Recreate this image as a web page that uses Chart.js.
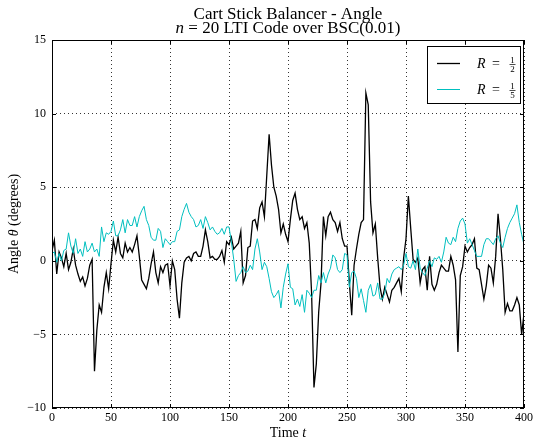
<!DOCTYPE html>
<html><head><meta charset="utf-8">
<script src="https://cdn.jsdelivr.net/npm/chart.js@4.4.1/dist/chart.umd.min.js"></script>
<style>html,body{margin:0;padding:0;background:#fff}#wrap{width:536px;height:443px;position:relative}</style>
</head><body><div id="wrap"><canvas id="c"></canvas></div>
<script>
const titleLine1 = 'Cart Stick Balancer - Angle';
const titleLine2Italic = 'n';
const titleLine2Rest = ' = 20 LTI Code over BSC(0.01)';
const xLabelText = 'Time ';
const xLabelItalic = 't';
const yLabelParts = ['Angle ', '\u03B8', ' (degrees)'];
const legendNames = ['R = 1/2', 'R = 1/5'];
const legendDenoms = ['2', '5'];
const xTicks = [0, 50, 100, 150, 200, 250, 300, 350, 400];
const yTicks = [-10, -5, 0, 5, 10, 15];
const tStart = 0, tStep = 2;

const seriesHalf = [
 0.7, 1.4, -0.9, 0.6, 0.2, -0.4, 0.5, -0.6, -0.1, 0.8,
 -0.3, -0.9, -1.4, -1.1, -1.7, -1.2, -0.3, 0.1, -7.5, -4.7,
 -3.0, -3.5, -1.8, -0.8, -1.9, -0.2, 1.4, 0.6, 1.6, 0.5,
 0.2, 1.2, 0.6, 0.9, 0.6, 1.1, 1.7, 0.3, -1.3, -1.6,
 -1.9, -1.2, -0.2, 0.6, -0.8, -1.5, -0.4, -0.8, -0.3, -0.2,
 -1.7, 0.0, -0.6, -2.6, -3.9, -1.5, -0.1, 0.2, 0.3, 0.0,
 0.5, 0.6, 0.3, 0.3, 1.0, 2.1, 1.3, 0.2, 0.3, 0.1,
 0.1, 0.3, 0.7, -0.1, 1.3, 1.1, 1.6, 0.8, 1.0, 1.2,
 2.0, -1.5, -1.0, 0.9, 1.0, 2.7, 2.8, 2.2, 3.6, 4.0,
 3.0, 5.8, 8.6, 6.5, 5.0, 4.4, 3.5, 1.9, 2.5, 1.8,
 1.3, 2.8, 4.1, 4.6, 3.5, 2.8, 3.0, 2.2, 2.6, 1.2,
 -2.2, -8.6, -7.0, -3.5, -1.5, 3.0, 1.7, 3.0, 3.3, 2.8,
 2.6, 2.0, 2.6, 1.5, 1.0, 1.0, -1.5, -3.7, -0.3, 0.8,
 1.8, 2.6, 2.8, 11.4, 10.6, 4.0, 1.9, 2.5, 0.2, -1.8,
 -2.6, -1.8, -2.3, -2.8, -2.0, -1.8, -1.5, -1.2, -2.1, 0.2,
 1.5, 4.4, 2.2, 0.1, -0.1, 0.2, -1.5, -0.6, -0.4, -2.0,
 0.3, -1.6, -2.0, -1.6, -0.8, -0.3, -0.5, -0.7, -0.7, 0.3,
 -0.3, -1.3, -6.2, -1.0, -0.4, 1.0, 0.6, 0.9, 1.1, 1.5,
 -0.5, -0.6, -1.6, -2.6, -1.7, -0.3, -0.5, -1.5, 0.3, 3.2,
 1.5, -0.6, -3.5, -2.9, -3.4, -3.4, -3.0, -2.5, -3.0, -5.0,
 -3.6
];

const seriesFifth = [
 0.5, 0.6, -0.1, 0.5, 0.0, 0.7, 0.8, 1.9, 1.0, 0.5,
 1.5, 0.5, 0.8, 0.3, 1.3, 0.6, 0.8, 1.2, 0.6, 0.8,
 0.3, 2.3, 1.3, 1.9, 1.8, 2.0, 2.7, 1.7, 1.7, 2.1,
 2.8, 1.9, 2.8, 2.4, 2.4, 3.0, 2.3, 3.0, 3.4, 3.7,
 2.8, 2.4, 1.6, 1.4, 1.4, 2.2, 2.0, 0.9, 1.5, 1.3,
 1.1, 1.3, 1.3, 2.0, 2.1, 3.0, 3.5, 3.9, 3.3, 3.0,
 2.8, 2.3, 2.4, 2.8, 2.2, 3.0, 2.6, 2.1, 2.3, 2.0,
 1.8, 1.9, 2.2, 1.8, 2.3, 2.3, 1.3, 0.1, -1.4, -1.0,
 -0.8, -0.4, -0.8, -0.7, -0.3, -0.6, 0.8, 1.5, 0.6, -0.6,
 -0.1, -0.4, -1.2, -2.1, -2.5, -2.3, -2.0, -3.2, -1.8, -0.9,
 -0.2, -1.8, -1.9, -3.0, -2.6, -3.1, -2.3, -3.5, -2.0, -2.2,
 -2.5, -2.0, -2.0, -1.0, -1.5, -0.8, -1.5, -0.9, -0.5, 0.4,
 0.2, -0.6, -0.8, -0.6, 0.5, 0.4, -1.8, -0.8, -0.7, -1.2,
 -2.5, -1.9, -2.7, -3.5, -2.0, -1.6, -2.4, -2.3, -1.5, -2.6,
 -2.6, -2.2, -1.2, -1.5, -0.9, -0.6, -0.5, -0.4, -0.6, -0.3,
 0.5, -0.4, -0.5, 0.0, -0.6, 0.8, -0.5, -0.8, -1.0, -0.5,
 0.0, -0.4, 0.2, 0.1, 0.3, -0.1, 0.6, 1.6, 1.2, 1.1,
 1.6, 1.3, 2.2, 2.7, 2.9, 2.5, 1.2, 1.5, 1.1, 0.7,
 0.3, 0.3, 0.3, 1.1, 1.5, 1.5, 1.3, 1.1, 1.5, 1.7,
 1.2, 0.9, 1.6, 2.2, 2.6, 2.9, 3.2, 3.8, 2.6, 1.8,
 1.1
];

const times = seriesHalf.map((_, i) => tStart + i * tStep);
const toPts = arr => arr.map((v, i) => ({x: times[i], y: v}));

const SERIF = '"Liberation Serif", "Times New Roman", serif';
const CYAN = '#00BFBF';

const decor = {
  id: 'decor',
  afterDraw(chart) {
    const ctx = chart.ctx;
    const a = chart.chartArea;
    const xs = chart.scales.x, ys = chart.scales.y;
    ctx.save();
    ctx.strokeStyle = '#000';
    ctx.lineWidth = 1;
    ctx.strokeRect(Math.round(a.left) + 0.5, Math.round(a.top) + 0.5,
                   Math.round(a.right - a.left) - 1, Math.round(a.bottom - a.top) - 1);
    ctx.beginPath();
    const L = 4;
    xTicks.forEach(v => {
      const px = Math.round(xs.getPixelForValue(v)) + 0.5;
      ctx.moveTo(px, a.bottom); ctx.lineTo(px, a.bottom - L);
      ctx.moveTo(px, a.top); ctx.lineTo(px, a.top + L);
    });
    yTicks.forEach(v => {
      const py = Math.round(ys.getPixelForValue(v)) + 0.5;
      ctx.moveTo(a.left, py); ctx.lineTo(a.left + L, py);
      ctx.moveTo(a.right, py); ctx.lineTo(a.right - L, py);
    });
    ctx.stroke();

    ctx.fillStyle = '#000';
    ctx.textBaseline = 'alphabetic';
    const cx = (a.left + a.right) / 2;
    ctx.font = '17px ' + SERIF;
    ctx.textAlign = 'center';
    ctx.fillText(titleLine1, cx, 18.5);
    ctx.textAlign = 'left';
    ctx.font = 'italic 17px ' + SERIF;
    const wN = ctx.measureText(titleLine2Italic).width;
    ctx.font = '17px ' + SERIF;
    const wR = ctx.measureText(titleLine2Rest).width;
    let x0 = cx - (wN + wR) / 2;
    ctx.font = 'italic 17px ' + SERIF;
    ctx.fillText(titleLine2Italic, x0, 33);
    ctx.font = '17px ' + SERIF;
    ctx.fillText(titleLine2Rest, x0 + wN, 33);

    ctx.font = '14px ' + SERIF;
    const w1 = ctx.measureText(xLabelText).width;
    ctx.font = 'italic 14px ' + SERIF;
    const w2 = ctx.measureText(xLabelItalic).width;
    x0 = cx - (w1 + w2) / 2;
    ctx.font = '14px ' + SERIF;
    ctx.fillText(xLabelText, x0, 437);
    ctx.font = 'italic 14px ' + SERIF;
    ctx.fillText(xLabelItalic, x0 + w1, 437);

    ctx.save();
    ctx.translate(18, (a.top + a.bottom) / 2);
    ctx.rotate(-Math.PI / 2);
    const fonts = ['14px ' + SERIF, 'italic 14px ' + SERIF, '14px ' + SERIF];
    let tot = 0;
    const ws = yLabelParts.map((p, i) => { ctx.font = fonts[i]; const w = ctx.measureText(p).width; tot += w; return w; });
    let xx = -tot / 2;
    yLabelParts.forEach((p, i) => { ctx.font = fonts[i]; ctx.fillText(p, xx, 0); xx += ws[i]; });
    ctx.restore();

    const bx = 427.5, by = 46.5, bw = 93, bh = 57;
    ctx.fillStyle = '#fff';
    ctx.fillRect(bx, by, bw, bh);
    ctx.strokeStyle = '#000';
    ctx.lineWidth = 1;
    ctx.strokeRect(bx, by, bw, bh);
    const colors = ['#000', CYAN];
    const widths = [1.3, 1];
    const rowsY = [63.5, 89.5];
    rowsY.forEach((ry, i) => {
      ctx.strokeStyle = colors[i];
      ctx.lineWidth = widths[i];
      ctx.beginPath(); ctx.moveTo(437, ry); ctx.lineTo(460, ry); ctx.stroke();
      ctx.fillStyle = '#000';
      ctx.textAlign = 'left';
      ctx.font = 'italic 14px ' + SERIF;
      ctx.fillText('R', 477, ry + 4);
      ctx.font = '14px ' + SERIF;
      ctx.fillText('=', 492, ry + 4);
      ctx.textAlign = 'center';
      ctx.font = '9px ' + SERIF;
      ctx.fillText('1', 512.5, ry - 0.5);
      ctx.fillText(legendDenoms[i], 512.5, ry + 8);
      ctx.beginPath(); ctx.lineWidth = 0.7; ctx.strokeStyle = '#000';
      ctx.moveTo(509.5, ry + 1); ctx.lineTo(515.5, ry + 1); ctx.stroke();
    });
    ctx.restore();
  }
};

new Chart(document.getElementById('c'), {
  type: 'line',
  data: {
    datasets: [
      { label: legendNames[0], data: toPts(seriesHalf), borderColor: '#000', borderWidth: 1.3,
        pointRadius: 0, tension: 0, fill: false, order: 1 },
      { label: legendNames[1], data: toPts(seriesFifth), borderColor: CYAN, borderWidth: 1,
        pointRadius: 0, tension: 0, fill: false, order: 0 }
    ]
  },
  options: {
    responsive: true,
    maintainAspectRatio: false,
    animation: false,
    devicePixelRatio: 1,
    layout: { padding: { top: 40, right: 8, left: 0, bottom: 0 } },
    plugins: { legend: { display: false }, title: { display: false }, tooltip: { enabled: false } },
    scales: {
      x: {
        type: 'linear', min: 0, max: 400,
        afterFit: s => { s.height = 35; },
        afterBuildTicks: s => { s.ticks = xTicks.map(v => ({ value: v })); },
        ticks: { color: '#000', font: { family: SERIF, size: 12 }, padding: 3, maxRotation: 0, autoSkip: false },
        grid: { color: '#000', lineWidth: 0.8, drawTicks: false, tickLength: 0 },
        border: { display: false, dash: [1, 3] }
      },
      y: {
        type: 'linear', min: -10, max: 15,
        afterFit: s => { s.width = 52; },
        afterBuildTicks: s => { s.ticks = yTicks.map(v => ({ value: v })); },
        ticks: { color: '#000', font: { family: SERIF, size: 12 }, padding: 6,
                 callback: v => v < 0 ? '\u2212' + Math.abs(v) : String(v) },
        grid: { color: '#000', lineWidth: 0.8, drawTicks: false, tickLength: 0 },
        border: { display: false, dash: [1, 3] }
      }
    }
  },
  plugins: [decor]
});
</script>
</body></html>
